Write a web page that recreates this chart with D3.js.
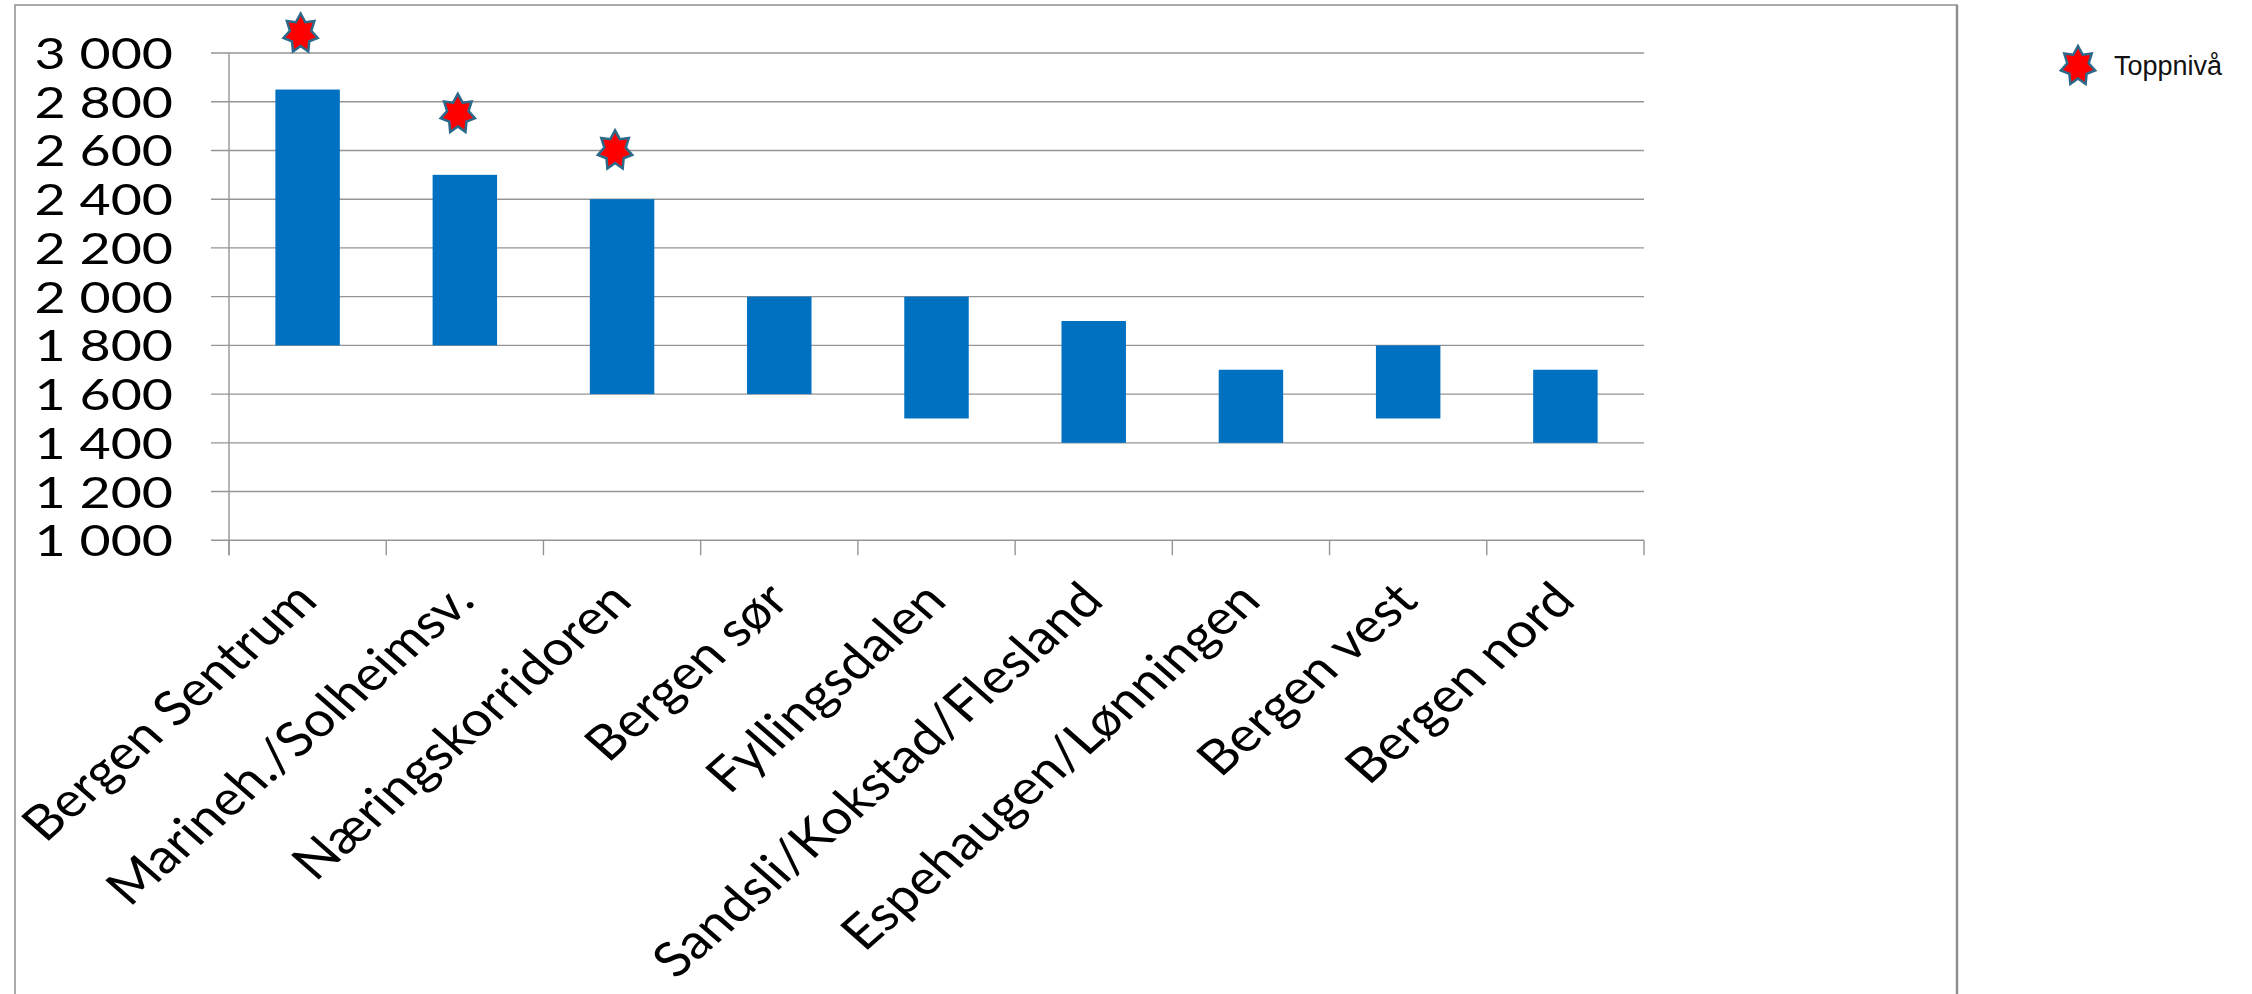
<!DOCTYPE html>
<html>
<head>
<meta charset="utf-8">
<script src="https://cdn.jsdelivr.net/npm/d3@7"></script>
<style>
  html, body { margin: 0; padding: 0; background: #ffffff; }
  svg { display: block; }
</style>
</head>
<body>
<svg id="chart" width="2252" height="994"></svg>
<script>
// Price ranges per area (floating bars) and the top level markers
const categories = [
  "Bergen Sentrum",
  "Marineh./Solheimsv.",
  "Næringskorridoren",
  "Bergen sør",
  "Fyllingsdalen",
  "Sandsli/Kokstad/Flesland",
  "Espehaugen/Lønningen",
  "Bergen vest",
  "Bergen nord"
];
const rangeLow  = [1800, 1800, 1600, 1600, 1500, 1400, 1400, 1500, 1400];
const rangeHigh = [2850, 2500, 2400, 2000, 2000, 1900, 1700, 1800, 1700];
const topLevel  = [3080, 2750, 2600, null, null, null, null, null, null];
const yTicks    = [1000, 1200, 1400, 1600, 1800, 2000, 2200, 2400, 2600, 2800, 3000];
const legendLabel = "Toppnivå";

// Layout and style
const svg = d3.select("#chart");
const plot = { left: 229, right: 1644, top: 53, bottom: 540.3 };
const stretchY = 1.25;          // horizontal widening of the value labels
const stretchCat = 1.14;        // horizontal widening of the category labels
const gridColor = "#959595";
const barColor = "#0070C0";
const starFill = "#FF0000";
const starStroke = "#2c6a8a";

const nb = d3.formatLocale({ decimal: ",", thousands: "\u00a0", grouping: [3], currency: ["", " kr"] });
const fmt = nb.format(",d");

const x = d3.scaleBand().domain(categories).range([plot.left, plot.right]).paddingInner(0).paddingOuter(0);
const y = d3.scaleLinear().domain([yTicks[0], yTicks[yTicks.length - 1]]).range([plot.bottom, plot.top]);

// Outer chart frame
svg.append("rect")
  .attr("x", 15).attr("y", 5).attr("width", 1942).attr("height", 1010)
  .attr("fill", "none").attr("stroke", "#8f8f8f").attr("stroke-width", 1.5);
svg.append("line")
  .attr("x1", 1957).attr("x2", 1957).attr("y1", 5).attr("y2", 994)
  .attr("stroke", "#8f8f8f").attr("stroke-width", 2.5);

// Horizontal gridlines (extending left of the axis as tick marks)
svg.append("g").selectAll("line").data(yTicks).join("line")
  .attr("x1", plot.left - 18).attr("x2", plot.right)
  .attr("y1", d => y(d)).attr("y2", d => y(d))
  .attr("stroke", gridColor).attr("stroke-width", 1.4);

// Y axis labels via d3 axis
const yAxis = d3.axisLeft(y).tickValues(yTicks).tickSize(0).tickPadding(0).tickFormat(fmt);
const gy = svg.append("g").attr("transform", `translate(${plot.left},0)`).call(yAxis);
gy.select(".domain").remove();
gy.selectAll("text")
  .attr("x", 0).attr("dy", "0.36em")
  .attr("transform", `translate(-56,0) scale(${stretchY},1)`)
  .attr("text-anchor", "end")
  .style("font-family", "Lato, 'Open Sans', sans-serif")
  .style("font-size", "43px")
  .attr("fill", "#000");

// Vertical axis line
svg.append("line")
  .attr("x1", plot.left).attr("x2", plot.left)
  .attr("y1", plot.top).attr("y2", plot.bottom + 15)
  .attr("stroke", gridColor).attr("stroke-width", 1.4);

// Category boundary ticks on the x axis
const bounds = categories.map(c => x(c)).concat([plot.right]);
svg.append("g").selectAll("line").data(bounds).join("line")
  .attr("x1", d => d).attr("x2", d => d)
  .attr("y1", plot.bottom).attr("y2", plot.bottom + 15)
  .attr("stroke", gridColor).attr("stroke-width", 1.4);

// Floating range bars
const barFrac = 0.41;
const bw = x.bandwidth() * barFrac;
svg.append("g").selectAll("rect").data(categories).join("rect")
  .attr("x", c => x(c) + x.bandwidth() / 2 - bw / 2)
  .attr("width", bw)
  .attr("y", (c, i) => y(rangeHigh[i]))
  .attr("height", (c, i) => y(rangeLow[i]) - y(rangeHigh[i]))
  .attr("fill", barColor);

// Seven-pointed star marker
function starPath(R, r, sx) {
  const pts = [];
  for (let k = 0; k < 14; k++) {
    const a = -Math.PI / 2 + k * Math.PI / 7;
    const rad = k % 2 === 0 ? R : r;
    pts.push([Math.cos(a) * rad * sx, Math.sin(a) * rad]);
  }
  return d3.line()(pts) + "Z";
}
const star = starPath(20, 12.5, 0.88);

const topData = categories.map((c, i) => ({ c, v: topLevel[i] })).filter(d => d.v != null);
svg.append("g").selectAll("path").data(topData).join("path")
  .attr("d", star)
  .attr("transform", d => `translate(${x(d.c) + x.bandwidth() / 2 - 7},${y(d.v)})`)
  .attr("fill", starFill).attr("stroke", starStroke).attr("stroke-width", 2.5)
  .attr("stroke-linejoin", "miter");

// Rotated category labels
svg.append("g").selectAll("text").data(categories).join("text")
  .attr("transform", c => `translate(${x(c) + x.bandwidth() / 2 + 12},603) scale(${stretchCat},1) rotate(-45)`)
  .attr("text-anchor", "end")
  .style("font-family", "Lato, 'Open Sans', sans-serif")
  .style("font-size", "48px")
  .attr("fill", "#000")
  .text(c => c);

// Legend
const lg = svg.append("g").attr("transform", "translate(2078,66)");
lg.append("path").attr("d", star)
  .attr("fill", starFill).attr("stroke", starStroke).attr("stroke-width", 2.5);
lg.append("text")
  .attr("x", 36).attr("y", 9)
  .style("font-family", "'Liberation Sans', Arial, sans-serif")
  .style("font-size", "27px")
  .attr("fill", "#111")
  .text(legendLabel);
</script>
</body>
</html>
